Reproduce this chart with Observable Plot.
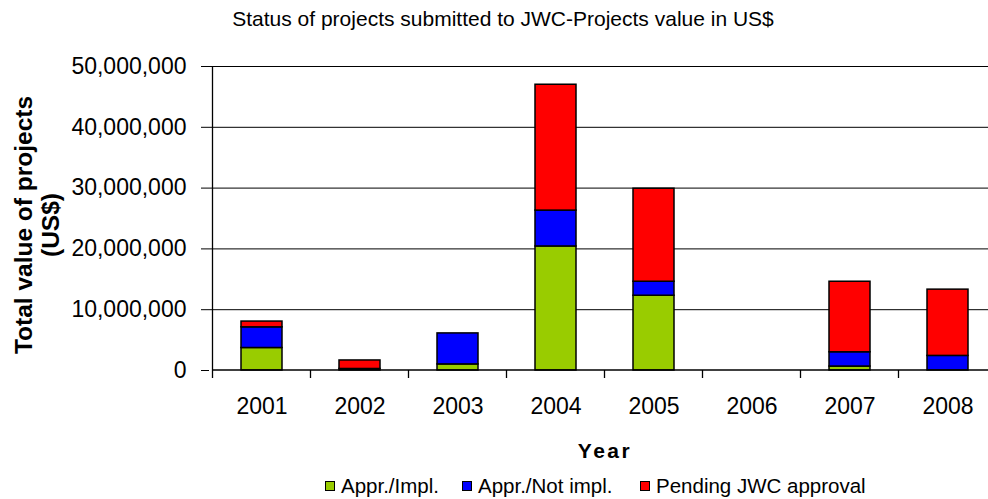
<!DOCTYPE html>
<html>
<head>
<meta charset="utf-8">
<script src="https://cdn.jsdelivr.net/npm/d3@7"></script>
<script src="https://cdn.jsdelivr.net/npm/@observablehq/plot@0.6"></script>
<style>
  html, body { margin: 0; padding: 0; background: white; }
  #wrap { position: relative; width: 988px; height: 499px; overflow: hidden; font-family: "Liberation Sans", Arial, sans-serif; color: black; }
  #title { position: absolute; left: 0; width: 1006px; top: 7px; text-align: center; font-size: 21px; white-space: nowrap; }
  #ylab { position: absolute; left: 37px; top: 225px; transform: translate(-50%, -50%) rotate(-90deg); font-size: 24.5px; font-weight: bold; text-align: center; line-height: 27px; white-space: nowrap; }
  #xlab { position: absolute; left: 605px; top: 440px; transform: translateX(-50%); font-size: 21px; line-height: 21px; font-weight: bold; letter-spacing: 2.5px; }
  #legend { position: absolute; left: 0; top: 475px; width: 988px; height: 22px; font-size: 20.5px; line-height: 22px; white-space: nowrap; }
  #legend .sw { position: absolute; top: 6px; width: 8px; height: 8px; border: 1px solid black; }
  #legend .tx { position: absolute; top: 0; }
  #chart { position: absolute; left: 0; top: 0; }
</style>
</head>
<body>
<div id="wrap">
  <div id="chart"></div>
  <div id="title">Status of projects submitted to JWC-Projects value in US$</div>
  <div id="ylab">Total value of projects<br>(US$)</div>
  <div id="xlab">Year</div>
  <div id="legend"></div>
</div>
<script>
const years = ["2001", "2002", "2003", "2004", "2005", "2006", "2007", "2008"];
const seriesNames = ["Appr./Impl.", "Appr./Not impl.", "Pending JWC approval"];
const seriesColors = ["#99CC00", "#0000FF", "#FF0000"];
const apprImpl    = [3.7e6, 0,      1.0e6, 20.4e6, 12.3e6, 0, 0.65e6, 0];
const apprNotImpl = [3.4e6, 0.25e6, 5.1e6, 5.9e6,  2.3e6,  0, 2.35e6, 2.4e6];
const pending     = [0.95e6, 1.4e6, 0,     20.7e6, 15.3e6, 0, 11.6e6, 10.9e6];
const yTicks = [0, 10e6, 20e6, 30e6, 40e6, 50e6];

const seriesValues = [apprImpl, apprNotImpl, pending];
const rows = [];
seriesNames.forEach((s, si) => {
  years.forEach((yr, i) => {
    const v = seriesValues[si][i];
    if (v > 0) rows.push({year: yr, series: s, value: v});
  });
});

const padInner = 0.585;

function frameMark(index, scales, values, dims) {
  const x = scales.x, y = scales.y;
  const step = x(years[1]) - x(years[0]);
  const bw = (typeof x.bandwidth === "function") ? x.bandwidth() : step * (1 - padInner);
  const g = d3.create("svg:g").attr("stroke", "black").attr("fill", "none").attr("stroke-width", 1.3);
  const y0 = y(0), yTop = y(yTicks[yTicks.length - 1]);
  const left = x(years[0]) - (step - bw) / 2;
  const right = x(years[years.length - 1]) + bw + (step - bw) / 2;
  g.append("line").attr("x1", left).attr("x2", right).attr("y1", y0).attr("y2", y0);
  g.append("line").attr("x1", left).attr("x2", left).attr("y1", y0).attr("y2", yTop);
  const bounds = years.map(yr => x(yr) - (step - bw) / 2).concat([right]);
  for (const b of bounds) {
    g.append("line").attr("x1", b).attr("x2", b).attr("y1", y0).attr("y2", y0 + 8);
  }
  return g.node();
}

const plot = Plot.plot({
  width: 988,
  height: 499,
  marginTop: 66,
  marginBottom: 129,
  marginLeft: 209,
  marginRight: 0,
  style: {fontFamily: "'Liberation Sans', Arial, sans-serif", fontSize: "23px", color: "black", background: "white"},
  x: {domain: years, range: [209, 1000], paddingInner: padInner, paddingOuter: padInner / 2, align: 0.5, label: null, tickSize: 0, tickPadding: 27},
  y: {domain: [0, 50e6], ticks: yTicks, tickFormat: d3.format(","), tickSize: 8, tickPadding: 15, label: null},
  color: {domain: seriesNames, range: seriesColors},
  marks: [
    Plot.ruleY(yTicks.slice(1), {stroke: "black", strokeWidth: 1}),
    Plot.barY(rows, {x: "year", y: "value", fill: "series", stroke: "black", strokeWidth: 1.5}),
    frameMark
  ]
});
document.getElementById("chart").appendChild(plot);

// legend layout: swatch left edges
const legendSwatchX = [325, 462, 640];
const legend = document.getElementById("legend");
seriesNames.forEach((s, i) => {
  const sw = document.createElement("span");
  sw.className = "sw";
  sw.style.left = legendSwatchX[i] + "px";
  sw.style.background = seriesColors[i];
  legend.appendChild(sw);
  const tx = document.createElement("span");
  tx.className = "tx";
  tx.style.left = (legendSwatchX[i] + 16) + "px";
  tx.textContent = s;
  legend.appendChild(tx);
});
</script>
</body>
</html>
